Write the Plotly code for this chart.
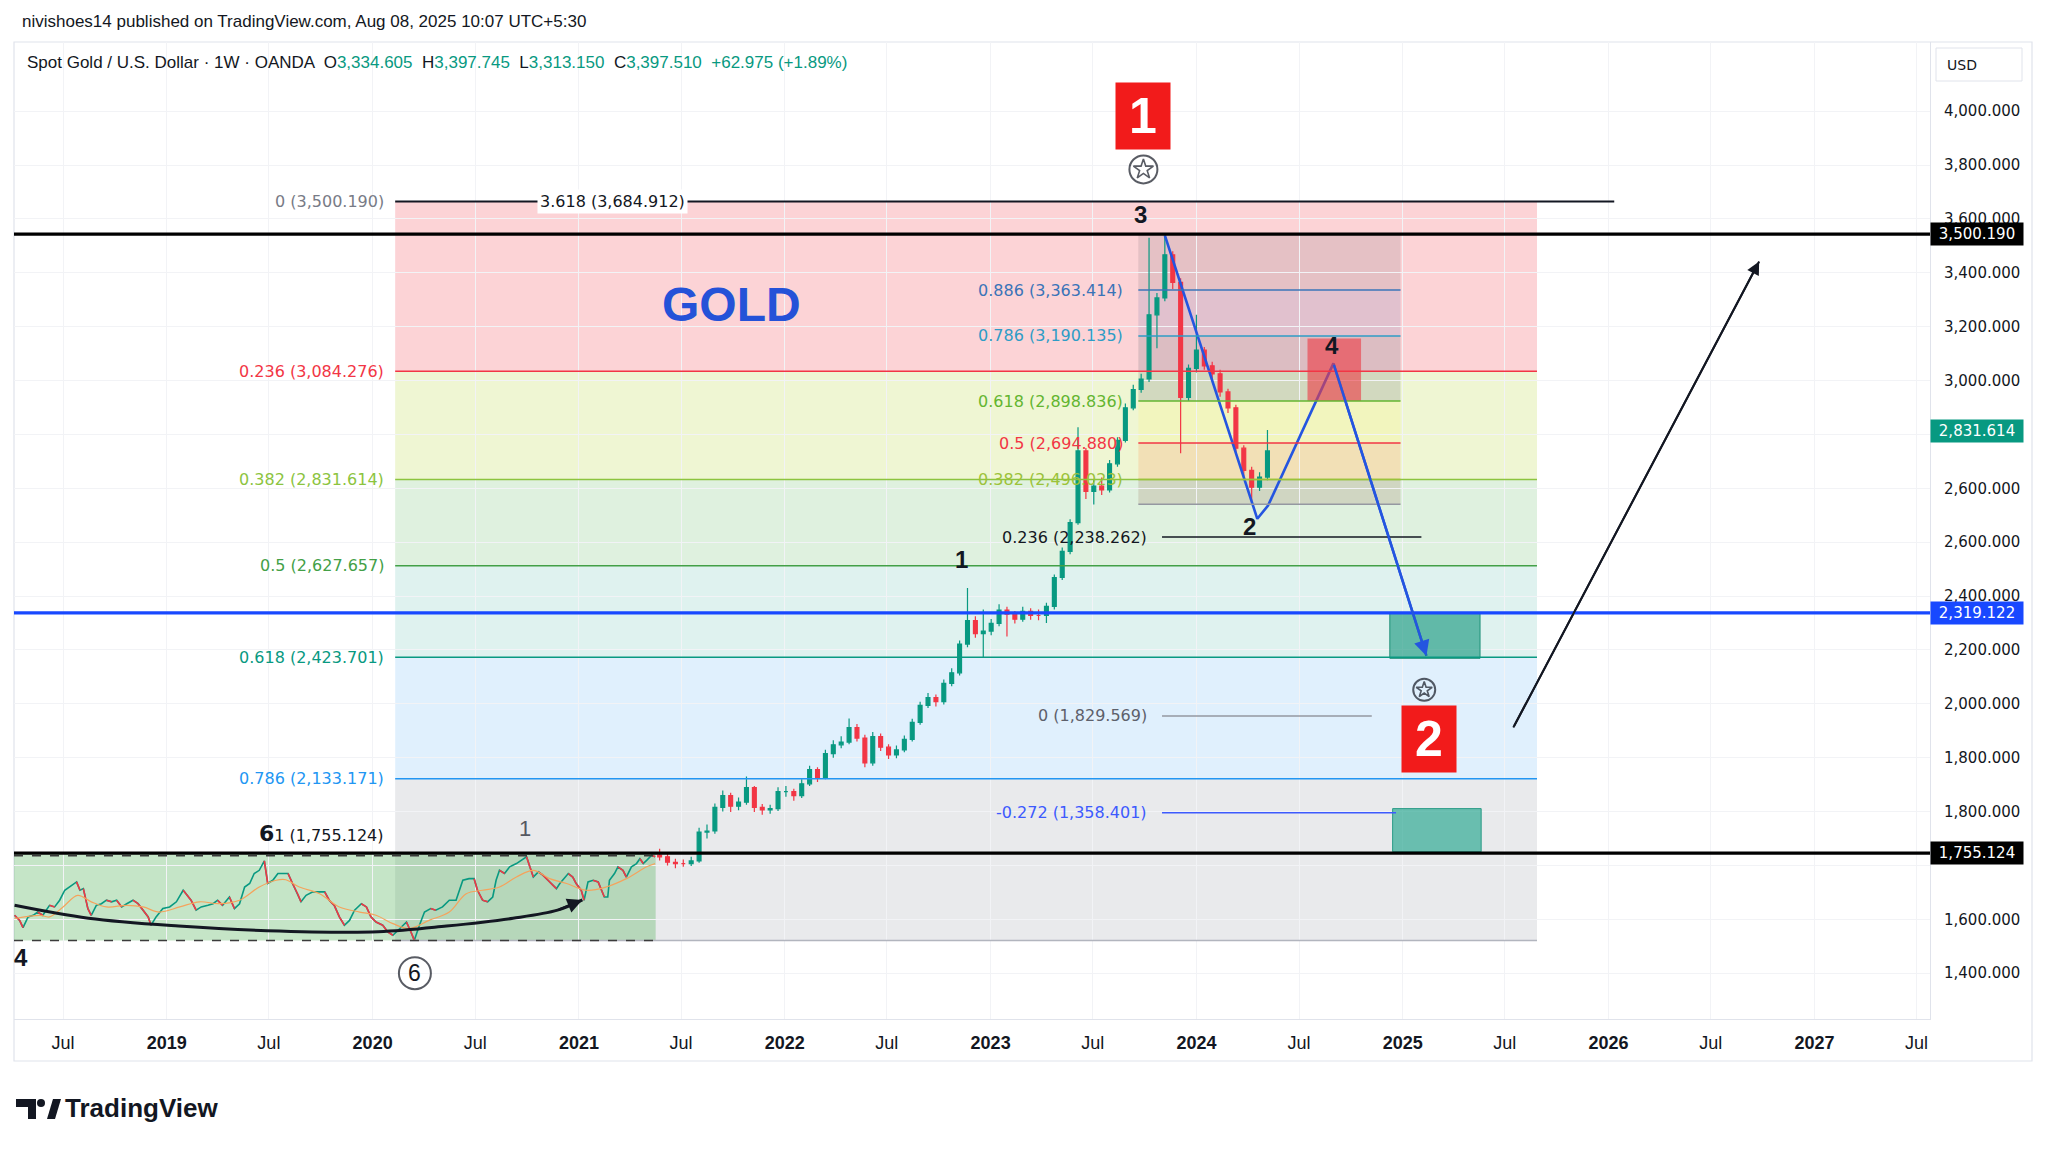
import pandas as pd
import plotly.graph_objects as go

# ---------------- data ----------------
# price axis is in "chart units": tick i sits at 4000 - 200*i, labels copied as printed
# (two labels sit under price badges in the original and are left blank)
price_ticks = [4000, 3800, 3600, 3400, 3200, 3000, 2800, 2600, 2400, 2200, 2000,
               1800, 1600, 1400, 1200, 1000, 800]
price_tick_text = ["4,000.000", "3,800.000", "3,600.000", "3,400.000", "3,200.000",
                   "3,000.000", "", "2,600.000", "2,600.000", "2,400.000",
                   "2,200.000", "2,000.000", "1,800.000", "1,800.000", "",
                   "1,600.000", "1,400.000"]

time_ticks = ["2018-07-01", "2019-01-01", "2019-07-01", "2020-01-01", "2020-07-01",
              "2021-01-01", "2021-07-01", "2022-01-01", "2022-07-01", "2023-01-01",
              "2023-07-01", "2024-01-01", "2024-07-01", "2025-01-01", "2025-07-01",
              "2026-01-01", "2026-07-01", "2027-01-01", "2027-07-01"]
time_tick_text = ["Jul", "<b>2019</b>", "Jul", "<b>2020</b>", "Jul", "<b>2021</b>", "Jul",
                  "<b>2022</b>", "Jul", "<b>2023</b>", "Jul", "<b>2024</b>", "Jul",
                  "<b>2025</b>", "Jul", "<b>2026</b>", "Jul", "<b>2027</b>", "Jul"]

# 2018 - mid 2021, drawn as a thin line
line_dates = ["2018-04-06", "2018-04-15", "2018-04-21", "2018-04-30", "2018-05-09", "2018-05-17",
              "2018-05-26", "2018-06-07", "2018-06-16", "2018-06-25", "2018-07-04", "2018-07-13",
              "2018-07-25", "2018-07-31", "2018-08-06", "2018-08-14", "2018-08-20", "2018-08-29",
              "2018-09-07", "2018-09-16", "2018-09-25", "2018-10-04", "2018-10-13", "2018-10-22",
              "2018-11-02", "2018-11-11", "2018-11-20", "2018-11-29", "2018-12-04", "2018-12-13",
              "2018-12-25", "2019-01-06", "2019-01-18", "2019-01-30", "2019-02-04", "2019-02-13",
              "2019-02-22", "2019-03-03", "2019-03-15", "2019-03-24", "2019-04-01", "2019-04-10",
              "2019-04-22", "2019-05-01", "2019-05-10", "2019-05-19", "2019-05-28", "2019-06-05",
              "2019-06-14", "2019-06-23", "2019-06-29", "2019-07-08", "2019-07-17", "2019-07-26",
              "2019-08-04", "2019-08-12", "2019-08-21", "2019-08-27", "2019-09-05", "2019-09-17",
              "2019-09-29", "2019-10-08", "2019-10-16", "2019-10-25", "2019-11-03", "2019-11-12",
              "2019-11-21", "2019-11-30", "2019-12-12", "2019-12-21", "2019-12-29", "2020-01-07",
              "2020-01-19", "2020-01-28", "2020-02-06", "2020-02-18", "2020-03-01", "2020-03-09",
              "2020-03-15", "2020-03-24", "2020-04-02", "2020-04-13", "2020-04-22", "2020-05-04",
              "2020-05-16", "2020-05-28", "2020-06-09", "2020-06-20", "2020-06-29", "2020-07-05",
              "2020-07-14", "2020-07-23", "2020-08-01", "2020-08-07", "2020-08-13", "2020-08-22",
              "2020-08-31", "2020-09-12", "2020-09-21", "2020-09-30", "2020-10-06", "2020-10-12",
              "2020-10-21", "2020-10-29", "2020-11-07", "2020-11-16", "2020-11-22", "2020-11-28",
              "2020-12-07", "2020-12-13", "2020-12-21", "2020-12-27", "2021-01-05", "2021-01-10",
              "2021-01-17", "2021-01-26", "2021-02-04", "2021-02-10", "2021-02-15", "2021-02-21",
              "2021-02-24", "2021-03-05", "2021-03-11", "2021-03-20", "2021-03-26", "2021-04-04",
              "2021-04-13", "2021-04-19", "2021-04-25", "2021-05-01", "2021-05-10", "2021-05-16"]
line_values = [1015, 996, 969, 1009, 1015, 1027, 1015, 1052, 1046, 1071, 1108, 1120,
               1139, 1108, 1114, 1040, 1015, 1052, 1058, 1071, 1065, 1071, 1046, 1058,
               1071, 1058, 1034, 1009, 978, 1009, 1040, 1046, 1065, 1108, 1095, 1071,
               1034, 1046, 1052, 1058, 1071, 1052, 1083, 1040, 1058, 1120, 1133, 1170,
               1182, 1217, 1133, 1145, 1170, 1170, 1170, 1133, 1095, 1065, 1089, 1102,
               1102, 1102, 1071, 1052, 1009, 978, 996, 1034, 1058, 1046, 1009, 990,
               978, 953, 941, 966, 990, 953, 922, 978, 1027, 1040, 1034, 1046,
               1071, 1071, 1145, 1151, 1151, 1108, 1071, 1065, 1083, 1145, 1182, 1170,
               1195, 1207, 1219, 1232, 1194, 1157, 1176, 1164, 1145, 1126, 1114, 1133,
               1157, 1170, 1157, 1133, 1108, 1071, 1139, 1145, 1139, 1108, 1083, 1083,
               1145, 1170, 1195, 1182, 1157, 1195, 1207, 1225, 1207, 1219, 1238, 1232]

ma_dates = ["2018-04-06", "2018-05-21", "2018-06-07", "2018-07-01", "2018-07-27", "2018-08-20",
            "2018-09-16", "2018-10-22", "2018-11-20", "2018-12-19", "2019-01-24", "2019-02-28",
            "2019-04-04", "2019-05-10", "2019-06-14", "2019-07-14", "2019-07-31", "2019-08-24",
            "2019-09-29", "2019-11-03", "2019-12-09", "2020-01-07", "2020-02-06", "2020-03-06",
            "2020-04-11", "2020-05-16", "2020-06-15", "2020-07-14", "2020-08-13", "2020-09-12",
            "2020-10-12", "2020-11-10", "2020-12-10", "2021-01-14", "2021-02-18", "2021-03-26",
            "2021-05-01", "2021-05-16"]
ma_values = [1003, 1015, 1009, 1046, 1089, 1065, 1046, 1052, 1046, 1027, 1046, 1065,
             1058, 1071, 1120, 1145, 1147, 1120, 1095, 1046, 1027, 1015, 984, 966,
             997, 1027, 1095, 1108, 1120, 1157, 1182, 1151, 1133, 1108, 1120, 1151,
             1195, 1207]

# mid 2021 onwards, two-week candles
candle_start = "2021-05-24"
candle_open = [1238, 1232, 1212, 1207, 1207, 1217, 1324, 1328, 1416, 1459, 1420, 1435, 1489,
               1416, 1406, 1411, 1474, 1474, 1459, 1503, 1556, 1527, 1615, 1648, 1658, 1712,
               1673, 1581, 1678, 1639, 1610, 1629, 1668, 1731, 1794, 1823, 1808, 1876, 1915,
               2022, 2109, 2061, 2070, 2099, 2148, 2133, 2114, 2143, 2128, 2128, 2162, 2269,
               2366, 2473, 2739, 2589, 2608, 2594, 2691, 2778, 2899, 2967, 3006, 3244, 3307,
               3467, 3365, 2938, 3045, 3113, 3055, 3025, 2958, 2899, 2749, 2667, 2604, 2642]
candle_close = [1232, 1212, 1207, 1207, 1217, 1324, 1328, 1416, 1459, 1420, 1435, 1489, 1416,
                1406, 1411, 1474, 1474, 1459, 1503, 1556, 1527, 1615, 1648, 1658, 1712, 1673,
                1581, 1678, 1639, 1610, 1629, 1668, 1731, 1794, 1823, 1808, 1876, 1915, 2022,
                2109, 2061, 2070, 2099, 2148, 2133, 2114, 2143, 2128, 2128, 2162, 2269, 2366,
                2473, 2739, 2589, 2608, 2594, 2691, 2778, 2899, 2967, 3006, 3244, 3307, 3467,
                3365, 2938, 3045, 3113, 3055, 3025, 2958, 2899, 2749, 2667, 2604, 2642, 2739]
candle_high = [1262, 1245, 1225, 1222, 1232, 1340, 1352, 1430, 1478, 1470, 1452, 1530, 1495,
               1428, 1425, 1490, 1495, 1485, 1520, 1570, 1565, 1630, 1665, 1680, 1746, 1725,
               1685, 1695, 1690, 1650, 1645, 1682, 1745, 1808, 1840, 1835, 1890, 1932, 2035,
               2230, 2125, 2150, 2115, 2170, 2160, 2145, 2160, 2155, 2150, 2175, 2280, 2380,
               2485, 2827, 2750, 2630, 2640, 2705, 2790, 2915, 2985, 3025, 3530, 3325, 3539,
               3480, 3380, 3060, 3244, 3125, 3070, 3040, 2970, 2910, 2760, 2680, 2660, 2817]
candle_low = [1218, 1200, 1190, 1195, 1198, 1210, 1300, 1318, 1400, 1398, 1405, 1425, 1398,
              1388, 1392, 1402, 1455, 1440, 1450, 1495, 1510, 1520, 1600, 1635, 1650, 1660,
              1565, 1570, 1625, 1595, 1598, 1620, 1660, 1722, 1785, 1790, 1798, 1865, 1905,
              2010, 2045, 1973, 2055, 2088, 2050, 2098, 2105, 2112, 2110, 2100, 2150, 2260,
              2355, 2465, 2560, 2540, 2575, 2585, 2680, 2770, 2890, 2955, 2995, 3120, 3295,
              3340, 2730, 2925, 3030, 3040, 3005, 2940, 2880, 2730, 2645, 2545, 2590, 2630]

# big fib retracement (levels in chart units, labels as printed)
fib_levels = [3665, 3035, 2633, 2313, 1973, 1522, 921]
fib_labels = ["0 (3,500.190)", "0.236 (3,084.276)", "0.382 (2,831.614)", "0.5 (2,627.657)",
              "0.618 (2,423.701)", "0.786 (2,133.171)", ""]
fib_colors = ["#787b86", "#f23645", "#8cc43f", "#43a047", "#089981", "#2196f3", "#b2b5be"]
fib_fills = ["rgba(242,54,69,0.22)", "rgba(190,220,80,0.25)", "rgba(76,175,80,0.18)",
             "rgba(8,153,129,0.13)", "rgba(33,150,243,0.14)", "rgba(120,123,134,0.16)"]

# small fib retracement on the 2023-24 swing
inner_levels = [3544, 3336, 3166, 2924, 2768, 2633, 2541]
inner_labels = ["", "0.886 (3,363.414)", "0.786 (3,190.135)", "0.618 (2,898.836)",
                "0.5 (2,694.880)", "0.382 (2,496.023)", ""]
inner_colors = ["#787b86", "#3a74b8", "#2e9cc6", "#63b530", "#f23645", "#9cc23a", "#9598a1"]
inner_fills = ["rgba(110,100,110,0.16)", "rgba(90,100,170,0.16)", "rgba(110,115,125,0.22)",
               "rgba(255,240,120,0.22)", "rgba(255,140,70,0.2)", "rgba(150,110,80,0.2)"]

ext_levels = [2419, 1755, 1396]
ext_labels = ["0.236 (2,238.262)", "0 (1,829.569)", "-0.272 (1,358.401)"]
ext_colors = ["#131722", "#9598a1", "#3d5afe"]
ext_ends = ["2025-02-03", "2024-11-07", "2024-12-20"]

# horizontal levels marked on the price scale
marked_levels = [3544, 2812, 2138, 1246]
marked_text = ["3,500.190", "2,831.614", "2,319.122", "1,755.124"]
marked_colors = ["#000000", "#089981", "#1848ff", "#000000"]

# projected waves
wave_dates = ["2023-11-06", "2024-04-18", "2024-05-07", "2024-08-31", "2025-02-12"]
wave_values = [3539, 2487, 2536, 3064, 1978]
rally_dates = ["2025-07-16", "2026-09-25"]
rally_values = [1712, 3442]
curve_dates = ["2018-04-06", "2018-08-15", "2019-01-22", "2019-06-28", "2020-01-11",
               "2020-05-11", "2020-09-06", "2020-11-24", "2021-01-07"]
curve_values = [1052, 1004, 975, 958, 954, 975, 1004, 1034, 1072]

# ---------------- figure ----------------
W, H = 2048, 1153
L, R, T, B = 14, 1930, 42, 1019
X0, X1 = "2018-04-05", "2027-07-25"
Y0, Y1 = 630, 4257
FONT = "Liberation Sans"
LBL = "DejaVu Sans"
INK = "#131722"


def paper(px, py):
    return (px - L) / (R - L), (B - py) / (B - T)


def ppath(points):
    s = ""
    for i, (px, py) in enumerate(points):
        x, y = paper(px, py)
        s += ("M" if i == 0 else "L") + f"{x:.5f},{y:.5f} "
    return s + "Z"


fig = go.Figure()
shapes = []
ann = []

# zones of the big fib
fib_x0, fib_x1 = "2020-02-10", "2025-08-27"
for i in range(len(fib_fills)):
    shapes.append(dict(type="rect", xref="x", yref="y", x0=fib_x0, x1=fib_x1,
                       y0=fib_levels[i + 1], y1=fib_levels[i], fillcolor=fib_fills[i],
                       line_width=0, layer="below"))
# accumulation box on the left
shapes.append(dict(type="rect", xref="x", yref="y", x0=X0, x1="2021-05-17", y0=921, y1=1246,
                   fillcolor="rgba(76,175,80,0.32)", line_width=0, layer="below"))
# small fib zones
in_x0, in_x1 = "2023-09-20", "2024-12-28"
for i in range(len(inner_fills)):
    shapes.append(dict(type="rect", xref="x", yref="y", x0=in_x0, x1=in_x1,
                       y0=inner_levels[i + 1], y1=inner_levels[i], fillcolor=inner_fills[i],
                       line_width=0, layer="below"))
# target boxes
shapes.append(dict(type="rect", xref="x", yref="y", x0="2024-07-16", x1="2024-10-19",
                   y0=2924, y1=3156, fillcolor="rgba(235,60,70,0.62)", line_width=0))
shapes.append(dict(type="rect", xref="x", yref="y", x0="2024-12-09", x1="2025-05-18",
                   y0=1969, y1=2138, fillcolor="rgba(20,150,125,0.62)",
                   line=dict(color="#1f8f78", width=1)))
shapes.append(dict(type="rect", xref="x", yref="y", x0="2024-12-14", x1="2025-05-20",
                   y0=1251, y1=1411, fillcolor="rgba(20,160,135,0.6)",
                   line=dict(color="#2a9c86", width=1)))

# fib lines
for i, lv in enumerate(fib_levels):
    if i == 0:
        shapes.append(dict(type="line", xref="x", yref="y", x0=fib_x0, x1="2026-01-11",
                           y0=lv, y1=lv, line=dict(color=INK, width=2)))
    else:
        shapes.append(dict(type="line", xref="x", yref="y", x0=fib_x0, x1=fib_x1,
                           y0=lv, y1=lv, line=dict(color=fib_colors[i], width=1.5)))
    if fib_labels[i]:
        ann.append(dict(x="2020-01-24", y=lv, xref="x", yref="y", text=fib_labels[i],
                        showarrow=False, xanchor="right", yanchor="middle",
                        font=dict(family=LBL, size=16, color=fib_colors[i])))
ann.append(dict(x="2021-03-01", y=fib_levels[0], xref="x", yref="y",
                text="3.618 (3,684.912)", showarrow=False, bgcolor="white", borderpad=2,
                font=dict(family=LBL, size=16, color=INK)))
ann.append(dict(x="2020-01-24", y=1319, xref="x", yref="y",
                text="<span style='font-size:22px'><b>6</b></span>1 (1,755.124)",
                showarrow=False, xanchor="right", yanchor="middle",
                font=dict(family=LBL, size=16, color=INK)))

for i, lv in enumerate(inner_levels):
    if i == 0:
        continue
    shapes.append(dict(type="line", xref="x", yref="y", x0=in_x0, x1=in_x1, y0=lv, y1=lv,
                       line=dict(color=inner_colors[i], width=1.5)))
    if inner_labels[i]:
        ann.append(dict(x="2023-08-28", y=lv, xref="x", yref="y", text=inner_labels[i],
                        showarrow=False, xanchor="right", yanchor="middle",
                        font=dict(family=LBL, size=16, color=inner_colors[i])))
for lv, lab, col, end in zip(ext_levels, ext_labels, ext_colors, ext_ends):
    shapes.append(dict(type="line", xref="x", yref="y", x0="2023-11-01", x1=end, y0=lv, y1=lv,
                       line=dict(color=col, width=1.5)))
    ann.append(dict(x="2023-10-09", y=lv, xref="x", yref="y", text=lab, showarrow=False,
                    xanchor="right", yanchor="middle",
                    font=dict(family=LBL, size=16, color=col if col != "#9598a1" else "#5d606b")))

# dashed borders of the accumulation box
for lv in [1236, 921]:
    shapes.append(dict(type="line", xref="x", yref="y", x0=X0, x1="2021-05-17", y0=lv, y1=lv,
                       line=dict(color="#3b3b3b", width=1.5, dash="dash")))

# price traces
fig.add_trace(go.Scatter(x=line_dates, y=line_values, mode="lines",
                         line=dict(color="#089981", width=1.6), hoverinfo="skip"))
red_x, red_y = [], []
for i in range(1, len(line_values)):
    if line_values[i] < line_values[i - 1]:
        red_x += [line_dates[i - 1], line_dates[i], None]
        red_y += [line_values[i - 1], line_values[i], None]
fig.add_trace(go.Scatter(x=red_x, y=red_y, mode="lines",
                         line=dict(color="#f23645", width=1.6), hoverinfo="skip"))
fig.add_trace(go.Scatter(x=ma_dates, y=ma_values, mode="lines", line_shape="spline",
                         line=dict(color="#f5a35c", width=1.2), hoverinfo="skip"))

candle_dates = pd.date_range(candle_start, periods=len(candle_close), freq="14D")
fig.add_trace(go.Candlestick(x=candle_dates, open=candle_open, high=candle_high,
                             low=candle_low, close=candle_close, whiskerwidth=0,
                             increasing=dict(line=dict(color="#089981", width=1.2),
                                             fillcolor="#089981"),
                             decreasing=dict(line=dict(color="#f23645", width=1.2),
                                             fillcolor="#f23645")))

# marked full-width levels
for lv, txt, col in zip(marked_levels, marked_text, marked_colors):
    if col != "#089981":
        shapes.append(dict(type="line", xref="paper", yref="y", x0=0, x1=1, y0=lv, y1=lv,
                           line=dict(color=col, width=3.2), layer="above"))
    ann.append(dict(x=1, y=lv, xref="paper", yref="y", text=txt, showarrow=False,
                    xanchor="left", yanchor="middle", bgcolor=col, width=90, height=20,
                    font=dict(family=LBL, size=15, color="white")))

# wave projections
fig.add_trace(go.Scatter(x=wave_dates, y=wave_values, mode="lines",
                         line=dict(color="#2455e0", width=2.6), hoverinfo="skip"))
ann.append(dict(x=wave_dates[-1], y=wave_values[-1], ax=wave_dates[-2], ay=wave_values[-2],
                xref="x", yref="y", axref="x", ayref="y", text="", showarrow=True,
                arrowhead=2, arrowsize=1.3, arrowwidth=2.4, arrowcolor="#2455e0"))
fig.add_trace(go.Scatter(x=rally_dates, y=rally_values, mode="lines",
                         line=dict(color=INK, width=2), hoverinfo="skip"))
ann.append(dict(x=rally_dates[-1], y=rally_values[-1], ax=rally_dates[0], ay=rally_values[0],
                xref="x", yref="y", axref="x", ayref="y", text="", showarrow=True,
                arrowhead=2, arrowsize=1.3, arrowwidth=2, arrowcolor=INK))
fig.add_trace(go.Scatter(x=curve_dates, y=curve_values, mode="lines", line_shape="spline",
                         line=dict(color=INK, width=3), hoverinfo="skip"))
ann.append(dict(x=curve_dates[-1], y=curve_values[-1], ax=curve_dates[-2], ay=curve_values[-2],
                xref="x", yref="y", axref="x", ayref="y", text="", showarrow=True,
                arrowhead=2, arrowsize=1.2, arrowwidth=2.5, arrowcolor=INK))

# circled stars and the circled 6
fig.add_trace(go.Scatter(x=["2023-09-29", "2025-02-08", "2020-03-16"], y=[3784, 1852, 800],
                         mode="markers",
                         marker=dict(symbol="circle-open", size=[28, 22, 32], color=INK,
                                     line=dict(color=INK, width=2)),
                         hoverinfo="skip"))
fig.add_trace(go.Scatter(x=["2023-09-29", "2025-02-08"], y=[3784, 1852], mode="markers",
                         marker=dict(symbol="star-open", size=[15, 12], color=INK,
                                     line=dict(color=INK, width=1.6)),
                         hoverinfo="skip"))

# wave counts and notes
notes = [("2022-11-11", 2337, "<b>1</b>", 24, INK),
         ("2024-04-04", 2458, "<b>2</b>", 24, INK),
         ("2023-09-24", 3615, "<b>3</b>", 24, INK),
         ("2024-08-29", 3132, "<b>4</b>", 24, INK),
         ("2020-09-27", 1338, "1", 22, "#555861"),
         ("2018-04-18", 858, "<b>4</b>", 24, INK),
         ("2020-03-16", 800, "6", 23, INK),
         ("2021-09-29", 3282, "<b>GOLD</b>", 48, "#2452d8")]
for x, y, t, s, c in notes:
    ann.append(dict(x=x, y=y, xref="x", yref="y", text=t, showarrow=False,
                    font=dict(family=FONT, size=s, color=c)))
for x, y, t in [("2023-09-29", 3981, "1"), ("2025-02-17", 1668, "2")]:
    ann.append(dict(x=x, y=y, xref="x", yref="y", text=f"<b>{t}</b>", showarrow=False,
                    bgcolor="#f21b1b", width=52, height=64,
                    font=dict(family=FONT, size=50, color="white")))

# chrome: header, symbol legend, currency box, logo
hx, hy = paper(20, 22)
ann.append(dict(x=hx, y=hy, xref="paper", yref="paper", xanchor="left", yanchor="middle",
                text="nivishoes14 published on TradingView.com, Aug 08, 2025 10:07 UTC+5:30",
                showarrow=False, font=dict(family=FONT, size=17, color=INK)))
g = "<span style='color:#089981'>"
lx, ly = paper(25, 63)
ann.append(dict(x=lx, y=ly, xref="paper", yref="paper", xanchor="left", yanchor="middle",
                text=("Spot Gold / U.S. Dollar · 1W · OANDA  O" + g + "3,334.605</span>  H" + g +
                      "3,397.745</span>  L" + g + "3,313.150</span>  C" + g +
                      "3,397.510</span>  " + g + "+62.975 (+1.89%)</span>"),
                showarrow=False, font=dict(family=FONT, size=17, color=INK)))
ux0, uy0 = paper(1936, 81)
ux1, uy1 = paper(2022, 48)
shapes.append(dict(type="rect", xref="paper", yref="paper", x0=ux0, y0=uy0, x1=ux1, y1=uy1,
                   line=dict(color="#e0e3eb", width=1), fillcolor="white"))
ann.append(dict(x=(ux0 + ux1) / 2, y=(uy0 + uy1) / 2, xref="paper", yref="paper", text="USD",
                showarrow=False, yanchor="middle",
                font=dict(family=LBL, size=14, color=INK)))
tx, ty = paper(63, 1108)
ann.append(dict(x=tx, y=ty, xref="paper", yref="paper", xanchor="left", yanchor="middle",
                text="TradingView", showarrow=False,
                font=dict(family=FONT, size=26, color=INK, weight=600)))
shapes.append(dict(type="path", xref="paper", yref="paper", line_width=0, fillcolor=INK,
                   path=ppath([(16, 1099), (36, 1099), (36, 1119), (28, 1119), (28, 1107), (16, 1107)])))
cx0, cy0 = paper(37, 1107)
cx1, cy1 = paper(45, 1099)
shapes.append(dict(type="circle", xref="paper", yref="paper", x0=cx0, y0=cy0, x1=cx1, y1=cy1,
                   line_width=0, fillcolor=INK))
shapes.append(dict(type="path", xref="paper", yref="paper", line_width=0, fillcolor=INK,
                   path=ppath([(47, 1119), (53, 1099), (61, 1099), (55, 1119)])))
# chart frame
fx0, fy0 = paper(14, 1061)
fx1, fy1 = paper(2032, 42)
shapes.append(dict(type="rect", xref="paper", yref="paper", x0=fx0, y0=fy0, x1=fx1, y1=fy1,
                   line=dict(color="#e0e3eb", width=1.2), layer="below"))

fig.update_layout(
    width=W, height=H, margin=dict(l=L, r=W - R, t=T, b=H - B),
    paper_bgcolor="white", plot_bgcolor="white", showlegend=False,
    shapes=shapes, annotations=ann,
    xaxis=dict(type="date", range=[X0, X1], tickvals=time_ticks, ticktext=time_tick_text,
               showgrid=True, gridcolor="#f2f3f6", zeroline=False, showline=True,
               linecolor="#e0e3eb", ticks="", ticklabelstandoff=7,
               tickfont=dict(family=FONT, size=18, color=INK),
               rangeslider=dict(visible=False)),
    yaxis=dict(side="right", range=[Y0, Y1], tickvals=price_ticks, ticktext=price_tick_text,
               showgrid=True, gridcolor="#f2f3f6", zeroline=False, showline=True,
               linecolor="#e0e3eb", ticks="", ticklabelstandoff=10,
               tickfont=dict(family=LBL, size=15, color=INK)),
)

fig.write_html("out.html", config={"displayModeBar": False},
               post_script="document.body.style.margin='0';document.body.style.overflow='hidden';")
